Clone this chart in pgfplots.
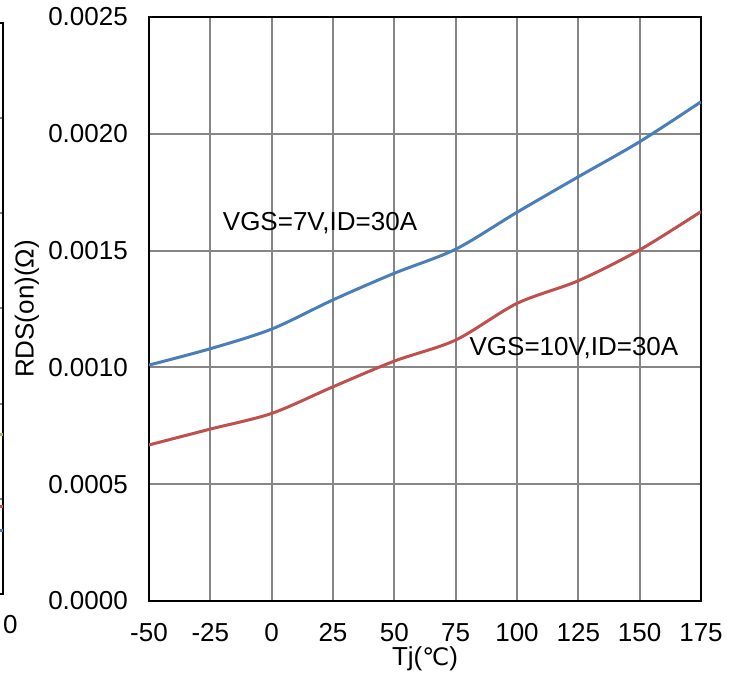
\documentclass[border=0pt]{standalone}
\usepackage{pgfplots}
\pgfplotsset{compat=1.18}
\usepackage{fontspec}
\setmainfont{Liberation Sans}
\newfontfamily\dejavu{DejaVu Sans}
\definecolor{xlblue}{RGB}{74,126,187}
\definecolor{xlred}{RGB}{192,80,77}
\definecolor{xlgreen}{RGB}{155,187,89}
\definecolor{gridgray}{RGB}{134,134,134}
\newcommand{\bigf}{\fontsize{26}{31}\selectfont}
\begin{document}
\begin{tikzpicture}[x=1pt,y=1pt]
\useasboundingbox (0,0) rectangle (739,677);
\begin{scope}
\clip (0,0) rectangle (739,677);
% fragment of a neighbouring chart at the left edge
\begin{axis}[at={(3.3pt,83pt)}, anchor=south east, scale only axis,
  width=400pt, height=571.3pt,
  xmin=0, xmax=10, ymin=0, ymax=6,
  xtick={10}, xticklabels={0}, ytick={0,1,2,3,4,5,6}, yticklabels={},
  grid=major, major grid style={gridgray, line width=2pt},
  major tick length=0pt, axis line style={black, line width=2pt},
  xticklabel style={anchor=north, inner sep=0pt, yshift=-21pt, xshift=7pt, font=\bigf}]
\addplot[xlgreen, line width=3pt] coordinates {(8,1.68) (10,1.68)};
\addplot[xlred, line width=3pt] coordinates {(8,0.924) (10,0.924)};
\addplot[xlblue, line width=3pt] coordinates {(8,0.672) (10,0.672)};
\end{axis}
% main chart
\begin{axis}[at={(149pt,76pt)}, anchor=south west, scale only axis,
  width=552pt, height=584pt,
  xmin=-50, xmax=175, ymin=0, ymax=0.0025,
  xtick={-50,-25,0,25,50,75,100,125,150,175},
  xticklabels={-50,-25,0,25,50,75,100,125,150,175},
  ytick={0,0.0005,0.001,0.0015,0.002,0.0025},
  yticklabels={0.0000,0.0005,0.0010,0.0015,0.0020,0.0025},
  scaled y ticks=false, scaled x ticks=false,
  grid=major, major grid style={gridgray, line width=2pt},
  major tick length=0pt, axis line style={black, line width=2pt},
  xticklabel style={anchor=north, inner sep=0pt, yshift=-22pt, font=\bigf},
  yticklabel style={anchor=east, inner sep=0pt, xshift=-21pt, font=\bigf},
  xlabel={Tj({\dejavu\fontsize{24}{29}\selectfont ℃})}, ylabel={RDS(on)(Ω)},
  xlabel style={at={(axis description cs:0.5,-0.078)}, anchor=north, inner sep=0pt, font=\bigf},
  ylabel style={at={(axis description cs:-0.221,0.5)}, anchor=center, inner sep=0pt, font=\bigf}]
\addplot[xlblue, line width=3pt, smooth] coordinates {
(-50,0.00101) (-25,0.00108) (0,0.001164) (25,0.001289) (50,0.001403)
(75,0.001506) (100,0.001664) (125,0.001816) (150,0.001966) (175,0.002137)};
\addplot[xlred, line width=3pt, smooth] coordinates {
(-50,0.000668) (-25,0.000736) (0,0.000803) (25,0.000917) (50,0.001027)
(75,0.001117) (100,0.001274) (125,0.001371) (150,0.001503) (175,0.001667)};
\node[anchor=base, inner sep=0pt, font=\bigf] at (axis cs:19.7,0.001588) {VGS=7V,ID=30A};
\node[anchor=base, inner sep=0pt, font=\bigf] at (axis cs:123.2,0.0010488) {VGS=10V,ID=30A};
\end{axis}
\end{scope}
\end{tikzpicture}
\end{document}
